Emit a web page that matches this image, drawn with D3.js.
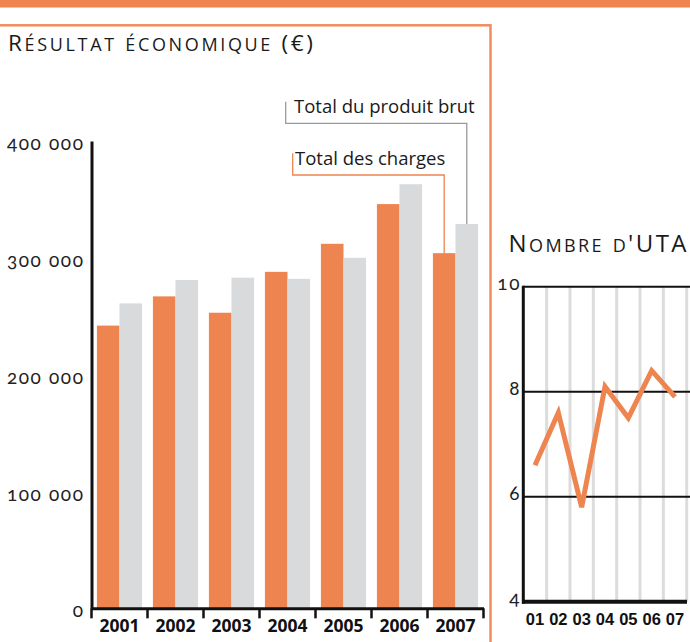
<!DOCTYPE html>
<meta charset="utf-8">
<script src="https://d3js.org/d3.v7.min.js"></script>
<style>
  body { margin: 0; background: #fff; }
  .tick-lbl { font-family: Lato, "Open Sans", sans-serif; font-size: 19px; letter-spacing: 1.6px; font-feature-settings: "onum"; fill: #222; }
  .title { font-family: "Open Sans", Lato, sans-serif; fill: #1a1a1a; }
  .annot { font-family: "Open Sans", Lato, sans-serif; font-size: 18.5px; fill: #1a1a1a; }
  .year { font-family: "Open Sans", "Liberation Sans", sans-serif; font-weight: 700; font-size: 17.5px; fill: #111; }
  .yy { font-family: "Liberation Sans Narrow", "Liberation Sans", sans-serif; font-weight: 700; font-size: 16.5px; fill: #111; }
</style>
<div id="chart"></div>
<script>
// bar chart data (euros)
var years = ["2001", "2002", "2003", "2004", "2005", "2006", "2007"];
var series = ["charges", "produit"];
var charges = [242000, 267000, 253000, 288000, 312000, 346000, 304000];
var produit = [261000, 281000, 283000, 282000, 300000, 363000, 329000];
var yTicks = [0, 100000, 200000, 300000, 400000];

// UTA line data
var utaLabels = ["01", "02", "03", "04", "05", "06", "07"];
var uta = [6.6, 7.6, 5.8, 8.1, 7.5, 8.4, 7.9];
var utaTicks = [4, 6, 8, 10];

var orange = "#ee8450", grey = "#d9dadc";

var svg = d3.select("#chart").append("svg")
    .attr("width", 690)
    .attr("height", 642);

// small caps by hand: lower case letters become smaller capitals
function smallCapsTitle(x0, y0, str, width, big, small) {
    var t = svg.append("text").attr("class", "title").attr("x", x0).attr("y", y0);
    str.split("").forEach(function(c) {
        var low = c !== c.toUpperCase();
        t.append("tspan")
            .attr("font-size", low ? small : big)
            .text(low ? c.toUpperCase() : c);
    });
    var n = str.length;
    var len = t.node().getComputedTextLength();
    t.attr("letter-spacing", ((width - len) / (n - 1)) + "px");
    return t;
}

// top banner
svg.append("rect").attr("x", 0).attr("y", 0).attr("width", 690).attr("height", 7.5).attr("fill", orange);

// frame round the left panel
svg.append("rect")
    .attr("x", -5).attr("y", 25.3)
    .attr("width", 495.5).attr("height", 700)
    .attr("fill", "none").attr("stroke", "#f08d5c").attr("stroke-width", 2.5);

smallCapsTitle(8, 51, "Résultat économique (€)", 305, 22.5, 18);

// ---- bar chart ----
var x = d3.scaleBand().domain(years).range([91.5, 483.5]).padding(0);
var xSub = d3.scaleBand().domain(series).range([0, x.bandwidth()]).paddingInner(0).paddingOuter(0.24);
var y = d3.scaleLinear().domain([0, 400000]).range([608.3, 141]);
var color = d3.scaleOrdinal().domain(series).range([orange, grey]);

var rows = years.map(function(yr, i) { return { year: yr, charges: charges[i], produit: produit[i] }; });

svg.append("g")
    .selectAll("g")
    .data(rows)
    .enter().append("g")
    .attr("transform", function(d) { return "translate(" + x(d.year) + ",0)"; })
    .selectAll("rect")
    .data(function(d) { return series.map(function(k) { return { key: k, value: d[k] }; }); })
    .enter().append("rect")
    .attr("x", function(d) { return xSub(d.key); })
    .attr("y", function(d) { return y(d.value); })
    .attr("width", xSub.bandwidth())
    .attr("height", function(d) { return y(0) - y(d.value); })
    .attr("fill", function(d) { return color(d.key); });

// y axis
var fmt = function(v) { return d3.format(",")(v).replace(/,/g, " "); };
var yAxis = svg.append("g")
    .attr("transform", "translate(91.5,0)")
    .call(d3.axisLeft(y).tickValues(yTicks).tickSize(0).tickSizeOuter(0).tickPadding(7).tickFormat(fmt));
yAxis.select(".domain").attr("stroke", "#111").attr("stroke-width", 3);
yAxis.selectAll("text").attr("class", "tick-lbl").attr("dy", "0.45em");

// x axis
var xAxis = svg.append("g")
    .attr("transform", "translate(0,608.3)")
    .call(d3.axisBottom(x).tickSize(0).tickSizeOuter(0).tickPadding(9));
xAxis.select(".domain").attr("stroke", "#111").attr("stroke-width", 3);
xAxis.selectAll("text").attr("class", "year").attr("dy", "0.85em");
var edges = years.map(function(d) { return x(d); }).concat([x(years[years.length - 1]) + x.bandwidth()]);
xAxis.selectAll("line.edge")
    .data(edges)
    .enter().append("line")
    .attr("class", "edge")
    .attr("x1", function(d) { return d; }).attr("x2", function(d) { return d; })
    .attr("y1", 0).attr("y2", 10)
    .attr("stroke", "#111").attr("stroke-width", 2.5);

// leader lines to the 2007 bars
var last = years[years.length - 1];
var gx = x(last) + xSub("produit") + xSub.bandwidth() / 2;
var ox = x(last) + xSub("charges") + xSub.bandwidth() / 2;
svg.append("path")
    .attr("d", "M285.7,101.7V123.3H" + gx + "V" + y(produit[6]))
    .attr("fill", "none").attr("stroke", "#9a9a9a").attr("stroke-width", 1.3);
svg.append("text").attr("class", "annot").attr("x", 294).attr("y", 113).text("Total du produit brut");
svg.append("path")
    .attr("d", "M292.7,153.3V175H" + ox + "V" + y(charges[6]))
    .attr("fill", "none").attr("stroke", orange).attr("stroke-width", 1.3);
svg.append("text").attr("class", "annot").attr("x", 295).attr("y", 165).text("Total des charges");

// ---- UTA line chart ----
smallCapsTitle(508.5, 251.5, "Nombre d'UTA", 178, 24, 18);

var x2 = d3.scaleBand().domain(utaLabels).range([523.3, 686.7]).padding(0);
var y2 = d3.scaleLinear().domain([4, 10]).range([601.7, 286.7]);

// vertical grey grid
svg.append("g").selectAll("line")
    .data(utaLabels)
    .enter().append("line")
    .attr("x1", function(d) { return x2(d) + x2.bandwidth(); })
    .attr("x2", function(d) { return x2(d) + x2.bandwidth(); })
    .attr("y1", y2(10)).attr("y2", y2(4))
    .attr("stroke", "#dcdcdc").attr("stroke-width", 3);

// horizontal lines
svg.append("g").selectAll("line")
    .data(utaTicks.slice(1))
    .enter().append("line")
    .attr("x1", 523).attr("x2", 690)
    .attr("y1", function(d) { return y2(d); }).attr("y2", function(d) { return y2(d); })
    .attr("stroke", "#111").attr("stroke-width", 2);

svg.append("g").selectAll("text")
    .data(utaTicks)
    .enter().append("text")
    .attr("class", "tick-lbl")
    .attr("font-size", "21px")
    .attr("letter-spacing", "0")
    .attr("text-anchor", "end")
    .attr("x", 521)
    .attr("y", function(d) { return y2(d) + 3; })
    .text(function(d) { return d; });

// the line
var line = d3.line()
    .x(function(d, i) { return x2(utaLabels[i]) + x2.bandwidth() / 2; })
    .y(function(d) { return y2(d); });
svg.append("path")
    .datum(uta)
    .attr("d", line)
    .attr("fill", "none").attr("stroke", orange).attr("stroke-width", 5)
    .attr("stroke-linejoin", "miter");

// axes of the line chart
svg.append("line").attr("x1", 523.3).attr("x2", 523.3).attr("y1", y2(10) - 1).attr("y2", y2(4) + 2)
    .attr("stroke", "#111").attr("stroke-width", 3);
svg.append("line").attr("x1", 522).attr("x2", 687).attr("y1", y2(4)).attr("y2", y2(4))
    .attr("stroke", "#111").attr("stroke-width", 4);

svg.append("g").selectAll("text")
    .data(utaLabels)
    .enter().append("text")
    .attr("class", "yy")
    .attr("text-anchor", "middle")
    .attr("x", function(d) { return x2(d) + x2.bandwidth() / 2; })
    .attr("y", 625)
    .text(function(d) { return d; });
</script>
